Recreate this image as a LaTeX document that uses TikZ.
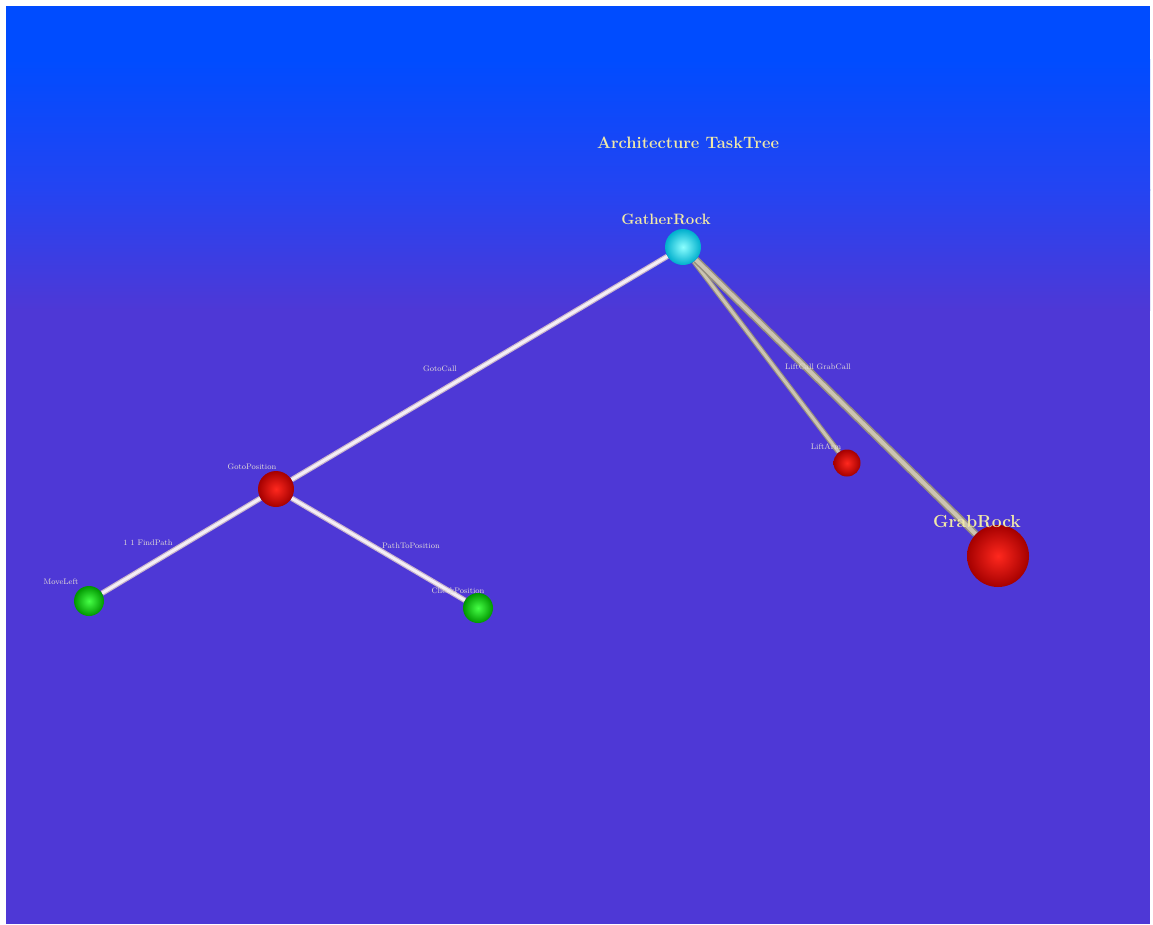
\documentclass[tikz,border=0pt]{standalone}
\definecolor{topblue}{RGB}{0,76,255}
\definecolor{midblue}{RGB}{36,68,242}
\definecolor{botpurple}{RGB}{78,56,214}
\definecolor{labelyellow}{RGB}{240,232,168}
\definecolor{smalltxt}{RGB}{228,222,215}
\definecolor{edgewhite}{RGB}{244,238,246}
\definecolor{edgerim}{RGB}{200,180,204}
\definecolor{edgegrey}{RGB}{204,196,178}
\definecolor{edgegreyrim}{RGB}{150,142,128}
\definecolor{redin}{RGB}{255,40,30}
\definecolor{redout}{RGB}{165,0,0}
\definecolor{greenin}{RGB}{70,255,70}
\definecolor{greenout}{RGB}{0,150,0}
\definecolor{cyanin}{RGB}{140,255,255}
\definecolor{cyanout}{RGB}{0,175,205}
\tikzset{
  x=1pt, y=-1pt,
  sphere/.style={circle, inner sep=0pt, draw=none},
  redshade/.style={inner color=redin, outer color=redout},
  greenshade/.style={inner color=greenin, outer color=greenout},
  cyanshade/.style={inner color=cyanin, outer color=cyanout},
  whiteedge/.style={draw=edgerim, line width=1.2pt, double=edgewhite, double distance=3pt},
  greyedge/.style={draw=edgegreyrim, line width=1.2pt, double=edgegrey, double distance=3pt},
  biglabel/.style={text=labelyellow, font=\bfseries\fontsize{15}{15}\selectfont, inner sep=0pt},
  smalllabel/.style={text=smalltxt, font=\fontsize{8}{8}\selectfont, inner sep=0pt},
}
\begin{document}
\begin{tikzpicture}
\useasboundingbox (0,0) rectangle (1153,924);
\fill[white] (0,0) rectangle (1153,924);
\fill[topblue] (6,6) rectangle (1150,60);
\shade[top color=topblue, bottom color=midblue] (6,59.5) rectangle (1150,190);
\shade[top color=midblue, bottom color=botpurple] (6,189.5) rectangle (1150,310);
\fill[botpurple] (6,309.5) rectangle (1150,924);

% title
\node[biglabel, font=\bfseries\fontsize{16.5}{16.5}\selectfont] (title) at (688,143) {Architecture TaskTree};

% sphere nodes
\node[sphere, minimum size=36pt] (gather) at (683,247) {};
\node[sphere, minimum size=36pt] (goto) at (276,489) {};
\node[sphere, minimum size=30pt] (leftg) at (89,601) {};
\node[sphere, minimum size=30pt] (rightg) at (478,608) {};
\node[sphere, minimum size=27pt] (lift) at (847,463) {};
\node[sphere, minimum size=62pt] (grab) at (998,556) {};

% edges
\draw[whiteedge] (gather) -- (goto);
\draw[whiteedge] (goto) -- (leftg);
\draw[whiteedge] (goto) -- (rightg);
\draw[greyedge] (gather) -- (lift);
\draw[greyedge, line width=1.6pt, double distance=4pt] (gather) -- (grab);

% sphere bodies
\shade[cyanshade] (gather) circle (18pt);
\shade[redshade] (goto) circle (18pt);
\shade[greenshade] (leftg) circle (15pt);
\shade[greenshade] (rightg) circle (15pt);
\shade[redshade] (lift) circle (13.5pt);
\shade[redshade] (grab) circle (31pt);

% node labels
\node[biglabel] (gatherlbl) at (666,219) {GatherRock};
\node[biglabel, font=\bfseries\fontsize{17.5}{17.5}\selectfont] (grablbl) at (977,521) {GrabRock};
\node[smalllabel] (gotolbl) at (252,467) {GotoPosition};
\node[smalllabel] (leftlbl) at (61,582) {MoveLeft};
\node[smalllabel] (rightlbl) at (458,591) {CheckPosition};
\node[smalllabel] (liftlbl) at (826,447) {LiftArm};

% edge labels
\node[smalllabel] (e1) at (440,369) {GotoCall};
\node[smalllabel] (e2) at (148,543) {1 1 FindPath};
\node[smalllabel] (e3) at (411,546) {PathToPosition};
\node[smalllabel] (e4) at (818,367) {LiftCall GrabCall};
\end{tikzpicture}
\end{document}
